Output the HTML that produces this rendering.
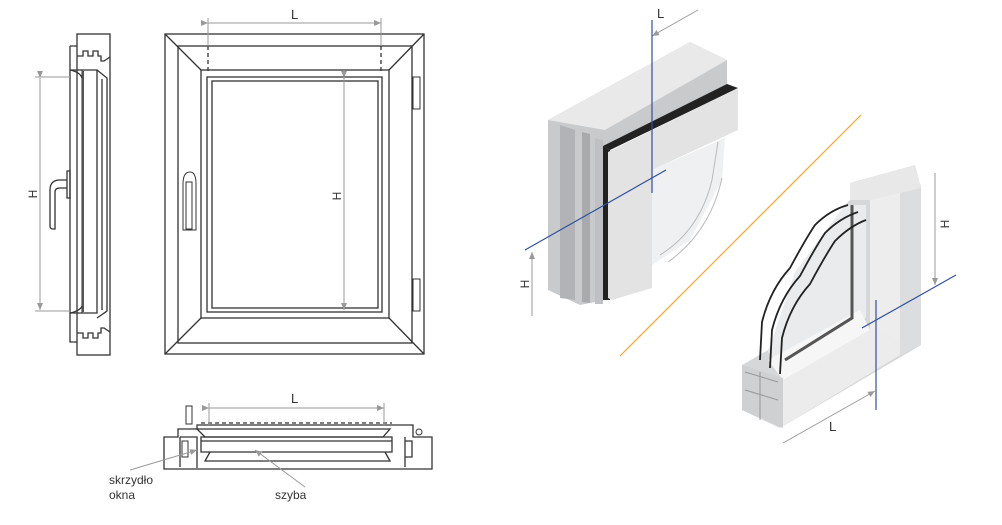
<!DOCTYPE html>
<html><head><meta charset="utf-8"><style>
html,body{margin:0;padding:0;background:#fff;}
svg{display:block;}
text{font-family:"Liberation Sans",sans-serif;fill:#333;}
</style></head><body>
<svg width="1002" height="525" viewBox="0 0 1002 525" xmlns="http://www.w3.org/2000/svg">
<defs>
<marker id="ar" markerWidth="8" markerHeight="8" refX="7" refY="4" orient="auto" markerUnits="userSpaceOnUse"><path d="M0,1 L7,4 L0,7 z" fill="#999"/></marker>
</defs>
<g fill="none" stroke="#333" stroke-width="1.3">
<!-- Side section -->
<rect x="77" y="34" width="33" height="321" fill="#fff"/>
<path d="M70,46 V342 H77 M70,46 H77"/>
<path d="M77,56 H83 V51 H88 V56 H93 V51 H98 V56 H101 V61 H104 L110,57"/>
<path d="M77,333 H83 V338 H88 V333 H93 V338 H98 V333 H101 V328 H104 L110,332"/>
<path d="M70,70 H97 V313 H70"/>
<rect x="82" y="70" width="15" height="243" stroke-width="1"/>
<line x1="83" y1="71" x2="83" y2="312" stroke-width="2" stroke="#555"/>
<path d="M97,70 L107,78 V311 L97,318"/>
<line x1="102" y1="79" x2="102" y2="310"/>
<path d="M70,70 Q80,72 82,78 M70,313 Q80,311 82,306"/>
<path d="M67,171 H70 V198 H67 Z"/>
<path d="M67,180 H60 Q50,180 50,190 V226 Q50,229 53,229 H55 V192 Q55,188 60,188 H67"/>
<!-- Front view -->
<rect x="165" y="34" width="259" height="320"/>
<rect x="178" y="46" width="234" height="297"/>
<rect x="201" y="70" width="188" height="248"/>
<rect x="207" y="77" width="175" height="235"/>
<rect x="212" y="81" width="166" height="227"/>
<path d="M165,34 L201,70 M424,34 L389,70 M165,354 L201,318 M424,354 L389,318"/>
<path d="M208,46 V73 M381,46 V73" stroke-dasharray="4,3"/>
<path d="M183,184 Q183,172 190,172 Q196,172 196,184 V230 H183 Z" stroke-width="1"/>
<rect x="186" y="182" width="6" height="47" stroke-width="1"/>
<rect x="413" y="77" width="7" height="32" stroke-width="1"/>
<rect x="413" y="279" width="7" height="32" stroke-width="1"/>
<!-- Bottom section -->
<path d="M164,437 H178 V429 H197 V425 H413 V437 H432 V469 H164 Z"/>
<path d="M197,429 H390 L383,437 H205 Z"/>
<path d="M201,437 H392 V452 H201 Z"/>
<line x1="201" y1="441" x2="392" y2="441"/>
<path d="M210,452 L205,461 H390 L385,452"/>
<path d="M180,437 H197 V468 M180,437 V467"/>
<rect x="182" y="441" width="6" height="16" stroke-width="1"/>
<path d="M405,437 V467 M405,441 H412 V457 H405"/>
<rect x="186" y="406" width="6" height="18" stroke-width="1"/>
<circle cx="419" cy="432" r="3" stroke-width="1"/>
<path d="M201,423 H392" stroke-dasharray="4,3"/>
</g>
<!-- dimension lines -->
<g stroke="#999" stroke-width="1" fill="none">
<line x1="208" y1="23" x2="381" y2="23" marker-start="url(#ar)" marker-end="url(#ar)"/>
<path d="M208,18 V46 M381,18 V46"/>
<line x1="344" y1="78" x2="344" y2="310" marker-start="url(#ar)" marker-end="url(#ar)"/>
<line x1="40" y1="78" x2="40" y2="310" marker-start="url(#ar)" marker-end="url(#ar)"/>
<path d="M35,77 H70 M35,311 H70"/>
<line x1="209" y1="408" x2="384" y2="408" marker-start="url(#ar)" marker-end="url(#ar)"/>
<path d="M209,403 V425 M384,403 V425"/>
<line x1="130" y1="470" x2="197" y2="450" marker-end="url(#ar)"/>
<line x1="305" y1="487" x2="255" y2="450" marker-end="url(#ar)"/>
<line x1="698" y1="10" x2="652" y2="36" marker-end="url(#ar)"/>
<line x1="532" y1="316" x2="532" y2="252" marker-end="url(#ar)"/>
<line x1="935" y1="173" x2="935" y2="285" marker-end="url(#ar)"/>
<line x1="783" y1="443" x2="875" y2="391" marker-end="url(#ar)"/>
</g>
<text x="291" y="19" font-size="13">L</text>
<text x="291" y="403" font-size="13">L</text>
<text x="0" y="0" font-size="12" transform="translate(341,196) rotate(-90)" text-anchor="middle">H</text>
<text x="0" y="0" font-size="12" transform="translate(37,194) rotate(-90)" text-anchor="middle">H</text>
<text x="109" y="484" font-size="12">skrzydło</text>
<text x="109" y="499" font-size="12">okna</text>
<text x="275" y="499" font-size="12">szyba</text>
<text x="657" y="18" font-size="13">L</text>
<text x="0" y="0" font-size="12" transform="translate(529,284) rotate(-90)" text-anchor="middle">H</text>
<text x="0" y="0" font-size="12" transform="translate(949,224) rotate(-90)" text-anchor="middle">H</text>
<text x="829" y="431" font-size="13">L</text>
<!-- orange divider -->
<line x1="620" y1="356" x2="861" y2="115" stroke="#f0a830" stroke-width="1.2"/>
<!-- 3D piece top-left -->
<g stroke="none">
<polygon points="548,120 690,42 727,60 727,88 605,150 605,300 580,305 548,290" fill="#c9cacc"/>
<polygon points="548,120 690,42 727,60 605,130" fill="#e9e9ea"/>
<polygon points="560,125 575,130 575,300 560,298" fill="#b2b3b6"/>
<polygon points="582,132 590,134 590,303 582,302" fill="#a9aaad"/>
<polygon points="595,138 603,140 603,304 595,304" fill="#bfc0c3"/>
<polygon points="603,146 727,84 738,88 610,150" fill="#222"/>
<polygon points="603,146 610,150 610,300 603,300" fill="#222"/>
<polygon points="608,152 738,88 738,130 652,170 652,288 612,300 608,298" fill="#e3e3e4"/>
<polygon points="652,170 725,138 722,180 690,240 652,265" fill="#eef0f1"/>
<path d="M660,255 Q700,230 712,180 L718,142 M668,262 Q710,232 722,178" stroke="#bbb" fill="none"/>
</g>
<g stroke="#3050a0" stroke-width="1.2">
<line x1="652" y1="20" x2="652" y2="193"/>
<line x1="525" y1="250" x2="666" y2="170"/>
</g>
<!-- 3D piece bottom-right -->
<g stroke="none">
<polygon points="850,183 915,165 921,188 921,345 780,428 742,410 742,365 768,350 845,205 850,200" fill="#d6d7d9"/>
<polygon points="870,200 900,190 900,350 870,368" fill="#ededee"/>
<polygon points="900,190 921,185 921,345 900,355" fill="#dcdddf"/>
<polygon points="850,183 915,165 921,188 870,200 850,200" fill="#e8e8e9"/>
<polygon points="768,352 795,272 845,205 866,205 866,318 782,368" fill="#e9ebec"/>
<polygon points="783,380 870,330 900,340 900,355 780,428" fill="#ececed"/>
<polygon points="768,360 860,310 870,330 783,380" fill="#f6f6f6"/>
<polygon points="742,365 783,378 783,428 742,410" fill="#cfd0d2"/>
<path d="M745,372 L778,382 M745,390 L778,400 M760,372 V420" stroke="#999" fill="none"/>
<path d="M852,205 V318 L785,360" stroke="#555" stroke-width="3" fill="none"/>
</g>
<g fill="none" stroke="#222" stroke-width="1.8">
<path d="M760,360 L762,322 Q770,290 790,268 Q805,240 815,225 Q830,210 848,205"/>
<path d="M770,368 L772,330 Q780,298 800,276 Q815,248 825,233 Q840,218 858,212"/>
<path d="M780,374 L782,338 Q790,306 810,284 Q825,256 835,241 Q850,226 866,220"/>
</g>
<g stroke="#3050a0" stroke-width="1.2">
<line x1="876" y1="300" x2="876" y2="410"/>
<line x1="862" y1="328" x2="956" y2="275"/>
</g>
</svg>
</body></html>
